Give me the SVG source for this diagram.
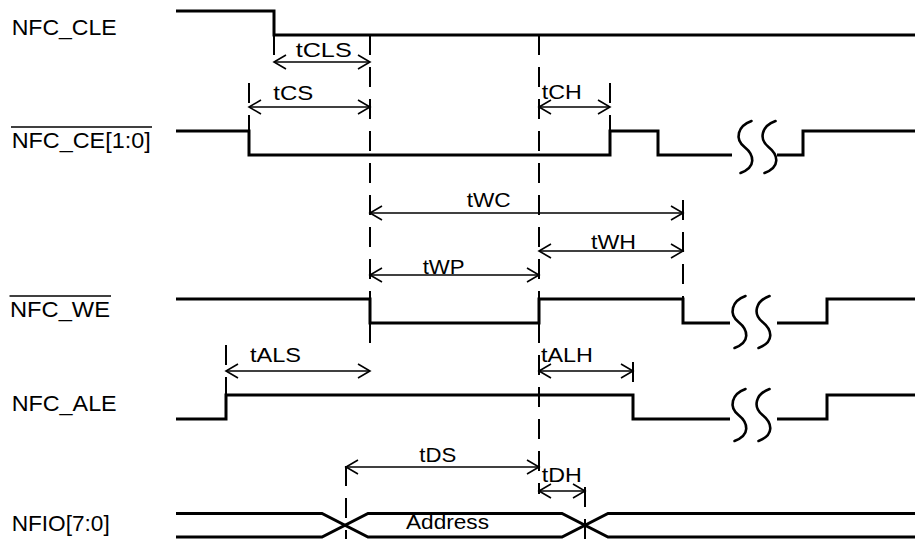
<svg xmlns="http://www.w3.org/2000/svg" width="915" height="539" viewBox="0 0 915 539">
<style>
text{font-family:"Liberation Sans",Arial,sans-serif;fill:#000}
.lbl{font-size:22px}
.tl{font-size:20px}
.sig{fill:none;stroke:#000;stroke-width:3;stroke-linejoin:miter;stroke-linecap:butt}
.sq{fill:none;stroke:#000;stroke-width:2.6;stroke-linecap:round}
.dash{fill:none;stroke:#000;stroke-width:2;stroke-dasharray:20 12}
.arr{fill:none;stroke:#000;stroke-width:1.6;marker-start:url(#ah);marker-end:url(#ah)}
.ov{stroke:#000;stroke-width:1.5}
</style>
<defs>
<marker id="ah" markerUnits="userSpaceOnUse" viewBox="-14 -8 16 16" markerWidth="16" markerHeight="16" refX="0" refY="0" orient="auto-start-reverse">
<path d="M-12,-7 L0,0 L-12,7" fill="none" stroke="#000" stroke-width="1.6"/>
</marker>
<path id="squig" d="M14,0 C0,5 -3,18 7,26 C17,34 19,46 3,52" class="sq"/>
</defs>
<rect width="915" height="539" fill="#fff"/>

<g id="sig-cle">
<text class="lbl" x="11.7" y="35" textLength="105" lengthAdjust="spacingAndGlyphs">NFC_CLE</text>
<path class="sig" d="M176,11 H274 V35 H915"/>
</g>

<g id="sig-ce">
<text class="lbl" x="11.7" y="147.7" textLength="139" lengthAdjust="spacingAndGlyphs">NFC_CE[1:0]</text>
<line class="ov" x1="11" y1="127" x2="152" y2="127"/>
<path class="sig" d="M176,131 H249 V155 H610 V131 H658 V155 H732"/>
<use href="#squig" x="737.5" y="121"/>
<use href="#squig" x="761.5" y="121"/>
<path class="sig" d="M777,155 H803 V131 H915"/>
</g>

<g id="sig-we">
<text class="lbl" x="10" y="316.7" textLength="100" lengthAdjust="spacingAndGlyphs">NFC_WE</text>
<line class="ov" x1="9.5" y1="296" x2="111" y2="296"/>
<path class="sig" d="M176,299 H370 V323 H539 V299 H683 V323 H730"/>
<use href="#squig" x="731.5" y="296"/>
<use href="#squig" x="755.5" y="296"/>
<path class="sig" d="M777,323 H827 V299 H915"/>
</g>

<g id="sig-ale">
<text class="lbl" x="11.7" y="411" textLength="105" lengthAdjust="spacingAndGlyphs">NFC_ALE</text>
<path class="sig" d="M176,419 H226 V395 H633 V419 H730"/>
<use href="#squig" x="731.5" y="389"/>
<use href="#squig" x="755.5" y="389"/>
<path class="sig" d="M777,419 H827 V395 H915"/>
</g>

<g id="sig-nfio">
<text class="lbl" x="11.7" y="531" textLength="98" lengthAdjust="spacingAndGlyphs">NFIO[7:0]</text>
<path class="sig" d="M176,513.5 H322 L368,537 H562 L608,513.5 H915"/>
<path class="sig" d="M176,537 H322 L368,513.5 H562 L608,537 H915"/>
<text class="tl" x="406" y="529.3" textLength="83" lengthAdjust="spacingAndGlyphs">Address</text>
</g>

<g id="connectors">
<line class="dash" x1="274" y1="35" x2="274" y2="67"/>
<line class="dash" x1="370" y1="35" x2="370" y2="350"/>
<line class="dash" x1="539" y1="35" x2="539" y2="494"/>
<line class="dash" x1="249" y1="83" x2="249" y2="131"/>
<line class="dash" x1="610" y1="83" x2="610" y2="131"/>
<line class="dash" x1="683" y1="200" x2="683" y2="299"/>
<line class="dash" x1="226" y1="345" x2="226" y2="395"/>
<line class="dash" x1="633" y1="362" x2="633" y2="395"/>
<line class="dash" x1="346" y1="466" x2="346" y2="539"/>
<line class="dash" x1="585" y1="487" x2="585" y2="539"/>

<line class="arr" x1="274" y1="62" x2="370" y2="62"/>
<line class="arr" x1="249" y1="107" x2="370" y2="107"/>
<line class="arr" x1="539" y1="107" x2="610" y2="107"/>
<line class="arr" x1="370" y1="213" x2="683" y2="213"/>
<line class="arr" x1="539" y1="251" x2="683" y2="251"/>
<line class="arr" x1="370" y1="275" x2="539" y2="275"/>
<line class="arr" x1="226" y1="371" x2="370" y2="371"/>
<line class="arr" x1="539" y1="371" x2="633" y2="371"/>
<line class="arr" x1="346" y1="467" x2="539" y2="467"/>
<line class="arr" x1="539" y1="491" x2="585" y2="491"/>

<text class="tl" x="295.7" y="57.3" textLength="56" lengthAdjust="spacingAndGlyphs">tCLS</text>
<text class="tl" x="273.3" y="99.5" textLength="40" lengthAdjust="spacingAndGlyphs">tCS</text>
<text class="tl" x="541.7" y="99" textLength="40" lengthAdjust="spacingAndGlyphs">tCH</text>
<text class="tl" x="466.7" y="206.7" textLength="44" lengthAdjust="spacingAndGlyphs">tWC</text>
<text class="tl" x="591" y="249" textLength="45" lengthAdjust="spacingAndGlyphs">tWH</text>
<text class="tl" x="422.7" y="274" textLength="42" lengthAdjust="spacingAndGlyphs">tWP</text>
<text class="tl" x="250" y="362" textLength="51" lengthAdjust="spacingAndGlyphs">tALS</text>
<text class="tl" x="541" y="362" textLength="52" lengthAdjust="spacingAndGlyphs">tALH</text>
<text class="tl" x="419.3" y="461.7" textLength="37" lengthAdjust="spacingAndGlyphs">tDS</text>
<text class="tl" x="541.7" y="482" textLength="40" lengthAdjust="spacingAndGlyphs">tDH</text>
</g>
</svg>
